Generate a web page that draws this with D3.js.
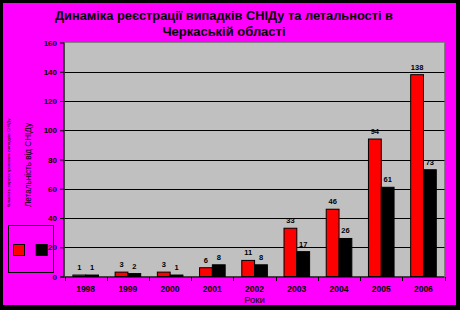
<!DOCTYPE html>
<html><head><meta charset="utf-8">
<script src="https://cdn.jsdelivr.net/npm/d3@7"></script>
<style>html,body{margin:0;padding:0;background:#000;}svg{display:block;}</style>
</head><body>
<svg id="c" width="460" height="310"></svg>
<script>
const years = ["1998","1999","2000","2001","2002","2003","2004","2005","2006"];
const registered = [1, 3, 3, 6, 11, 33, 46, 94, 138];
const deaths = [1, 2, 1, 8, 8, 17, 26, 61, 73];
const yTicks = [0, 20, 40, 60, 80, 100, 120, 140, 160];
const seriesNames = ["registered", "deaths"];
const seriesColors = ["#ff0000", "#000000"];
const titleLines = ["Динаміка реєстрації випадків СНІДу та летальності в", "Черкаській області"];
const yTitle1 = "Кількість зареєстрованих випадків СНІДу";
const yTitle2 = "Летальність від СНІДу";
const xTitle = "Роки";

const svg = d3.select("#c");
svg.append("rect").attr("x",0).attr("y",0).attr("width",460).attr("height",310).attr("fill","#000");
svg.append("rect").attr("x",3).attr("y",3).attr("width",453).attr("height",302).attr("fill","#ff00ff");

const L = 64.5, R = 444.5, T = 42.5, B = 276.5;
const x = d3.scaleBand().domain(years).range([L, R]).padding(0);
const xs = d3.scaleBand().domain(seriesNames).range([8.4, 34]);
const y = d3.scaleLinear().domain([0, 160]).range([B, T]);

// plot area
svg.append("rect").attr("x", L).attr("y", T).attr("width", R - L).attr("height", B - T)
  .attr("fill", "#c0c0c0").attr("stroke", "#808080").attr("stroke-width", 1);

// grid lines
svg.append("g").selectAll("line").data(yTicks.filter(d => d > 0 && d < 160)).join("line")
  .attr("x1", L).attr("x2", R).attr("y1", d => Math.round(y(d)) + 0.5).attr("y2", d => Math.round(y(d)) + 0.5)
  .attr("stroke", "#000").attr("stroke-width", 1);

// bars
const data = years.map((yr, i) => ({yr, vals: [registered[i], deaths[i]]}));
const g = svg.append("g").selectAll("g").data(data).join("g")
  .attr("transform", d => `translate(${x(d.yr)},0)`);
g.selectAll("rect").data(d => d.vals.map((v, j) => ({v, s: seriesNames[j], c: seriesColors[j]}))).join("rect")
  .attr("x", d => xs(d.s)).attr("width", xs.bandwidth())
  .attr("y", d => y(d.v)).attr("height", d => B - y(d.v))
  .attr("fill", d => d.c).attr("stroke", "#000").attr("stroke-width", 1);
g.selectAll("text").data(d => d.vals.map((v, j) => ({v, s: seriesNames[j]}))).join("text")
  .attr("x", d => xs(d.s) + xs.bandwidth() / 2).attr("y", d => y(d.v) - 5)
  .attr("text-anchor", "middle").attr("font-family", "Liberation Sans, Arial, sans-serif")
  .attr("font-size", "7.5px").attr("font-weight", "bold").attr("fill", "#000").text(d => d.v);

// y axis
const ya = svg.append("g").attr("transform", `translate(${L - 0.5},0)`)
  .call(d3.axisLeft(y).tickValues(yTicks).tickSize(4).tickPadding(3));
ya.select(".domain").attr("stroke", "#000").attr("d", `M0,${T}V${B}`);
ya.selectAll("line").attr("stroke", "#000");
ya.selectAll("text").attr("font-family", "Liberation Sans, Arial, sans-serif").attr("font-size", "8px")
  .attr("font-weight", "bold").attr("fill", "#000");

// x axis
const xa = svg.append("g").attr("transform", `translate(0,${B + 0.5})`)
  .call(d3.axisBottom(x).tickSize(0).tickPadding(9));
xa.select(".domain").attr("stroke", "#000").attr("d", `M${L - 4},0H${R}`);
xa.selectAll("text").attr("font-family", "Liberation Sans, Arial, sans-serif").attr("font-size", "8.5px")
  .attr("font-weight", "bold").attr("fill", "#000");
xa.append("g").selectAll("line").data(years.concat(["end"])).join("line")
  .attr("x1", (d, i) => Math.round(i < years.length ? x(d) : x(years[years.length - 1]) + x.bandwidth()) + 0.5)
  .attr("x2", (d, i) => Math.round(i < years.length ? x(d) : x(years[years.length - 1]) + x.bandwidth()) + 0.5)
  .attr("y1", 0).attr("y2", 4).attr("stroke", "#000");

// x title
svg.append("text").attr("x", (L + R) / 2).attr("y", 303).attr("text-anchor", "middle")
  .attr("font-family", "Liberation Sans, Arial, sans-serif").attr("font-size", "9.5px").attr("fill", "#000").text(xTitle);

// y titles
svg.append("text").attr("transform", "translate(10,163) rotate(-90)").attr("text-anchor", "middle")
  .attr("font-family", "Liberation Sans, Arial, sans-serif").attr("font-size", "4px").attr("fill", "#000")
  .attr("textLength", 89).attr("lengthAdjust", "spacingAndGlyphs").text(yTitle1);
svg.append("text").attr("transform", "translate(31,165) rotate(-90)").attr("text-anchor", "middle")
  .attr("font-family", "Liberation Sans, Arial, sans-serif").attr("font-size", "9px").attr("fill", "#000")
  .attr("textLength", 84).attr("lengthAdjust", "spacingAndGlyphs").text(yTitle2);

// title
svg.append("g").selectAll("text").data(titleLines).join("text")
  .attr("x", 224).attr("y", (d, i) => 20 + i * 16).attr("text-anchor", "middle")
  .attr("font-family", "Liberation Sans, Arial, sans-serif").attr("font-size", "13px").attr("font-weight", "bold")
  .attr("fill", "#000")
  .attr("textLength", (d, i) => i === 0 ? 338 : 123).attr("lengthAdjust", "spacingAndGlyphs")
  .text(d => d);

// legend
const lg = svg.append("g");
lg.append("rect").attr("x", 8.5).attr("y", 225.5).attr("width", 45).attr("height", 47)
  .attr("fill", "none").attr("stroke", "#000");
lg.selectAll("rect.k").data(seriesColors).join("rect").attr("class", "k")
  .attr("x", (d, i) => 13.5 + i * 22.7).attr("y", 244.5).attr("width", 11).attr("height", 11)
  .attr("fill", d => d).attr("stroke", "#000");
</script>
</body></html>
